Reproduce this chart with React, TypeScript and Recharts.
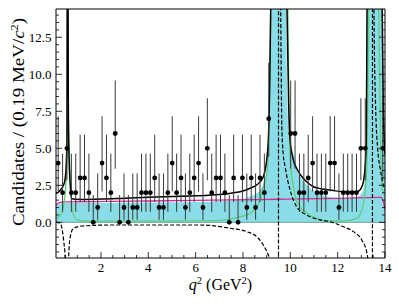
import {
  ComposedChart,
  Area,
  Line,
  Scatter,
  ErrorBar,
  XAxis,
  YAxis,
  ReferenceLine,
} from "recharts";

const FONT = '"Liberation Serif", "Times New Roman", serif';

// 75 bins between 0.1 and 14.0 GeV^2; null = bins hidden inside the charmonium peaks
const Q_LO = 0.1;
const Q_HI = 14.0;
const N_BINS = 75;
const counts: (number | null)[] = [
  4, 2, 5, 2, 2, 3, 3, 2, 0, 1, 4, 3, 2, 6, 0, 1, 0, 1, 1, 2,
  2, 2, 3, 1, 1, 2, 4, 2, 3, 1, 2, 3, 4, 1, 5, 2, 3, 3, 2, 0,
  3, 0, 3, 1, 3, 1, 3, 2, 7, null, null, null, null, 6, 6, 2, 2, 3, 4, 2,
  2, 2, 4, 4, 1, 2, 2, 2, 2, 5, 5, null, null, null, 5,
];

// 68% Poisson interval for n = 0..7
const poissonLow = [0, 0.173, 0.708, 1.367, 2.086, 2.84, 3.62, 4.419];
const poissonHigh = [1.841, 3.3, 4.638, 5.918, 7.163, 8.382, 9.584, 10.77];

// total fit (black)
const totalQ = [0.1, 0.2, 0.3, 0.4, 0.47, 0.52, 0.56, 0.59, 0.62, 0.65, 0.7, 0.77, 0.9, 1.2, 2, 3, 4, 5, 6, 7, 7.5, 8, 8.3, 8.6, 8.86, 9.0, 9.07, 9.12, 9.17, 9.3, 9.5, 9.75, 9.86, 9.93, 9.99, 10.13, 10.3, 10.49, 10.7, 10.98, 11.3, 11.68, 12.25, 12.81, 12.95, 13.02, 13.1, 13.16, 13.21, 13.24, 13.32, 13.5, 13.82, 13.88, 13.93, 13.97, 14.0];
const totalV = [1.96, 2.05, 2.2, 2.45, 2.8, 3.5, 5.5, 30, 8, 4.5, 2.6, 1.6, 1.56, 1.55, 1.57, 1.63, 1.69, 1.74, 1.79, 1.88, 1.97, 2.12, 2.3, 2.55, 3.08, 4.2, 5.56, 8.5, 14.3, 30, 45, 30, 14.3, 8, 5.56, 4.2, 3.55, 3.08, 2.72, 2.4, 2.27, 2.18, 2.07, 2.07, 2.2, 2.4, 2.85, 3.75, 5.56, 14.3, 30, 45, 30, 14.3, 7.5, 5.3, 4.6];

// resonant component (cyan fill)
const cyanQ = [0.1, 0.2, 0.35, 0.6, 1, 3, 5, 6, 7, 7.5, 8, 8.3, 8.6, 8.8, 9.0, 9.06, 9.11, 9.15, 9.3, 9.5, 9.7, 9.82, 9.87, 9.92, 10.0, 10.13, 10.34, 10.5, 10.7, 11.0, 11.5, 12.0, 12.5, 12.8, 13.0, 13.1, 13.18, 13.22, 13.25, 13.35, 13.5, 13.8, 13.92, 13.96, 14.0];
const cyanV = [1.08, 1.2, 1.28, 1.3, 1.3, 1.33, 1.36, 1.38, 1.42, 1.48, 1.6, 1.75, 1.98, 2.4, 3.5, 4.5, 5.56, 14.3, 35, 45, 35, 14.3, 8.5, 6.0, 5.2, 4.66, 3.3, 2.9, 2.5, 2.1, 1.78, 1.65, 1.62, 1.72, 1.95, 2.3, 3.6, 7, 14.3, 35, 45, 35, 14.3, 8, 6];

// non-resonant (magenta)
const pinkQ = [0.1, 0.18, 0.28, 0.45, 1, 2.5, 4, 6, 7.5, 9.5, 12, 13.8, 13.88, 13.94, 14.0];
const pinkV = [1.15, 1.27, 1.34, 1.38, 1.39, 1.41, 1.44, 1.48, 1.51, 1.56, 1.62, 1.68, 1.6, 1.35, 0.85];

// green component
const greenQ = [0.1, 0.2, 0.3, 0.4, 0.49, 0.53, 0.56, 0.6, 0.64, 0.7, 0.77, 0.84, 0.91, 1.05, 1.33, 2, 4, 6, 7, 7.6, 8.0, 8.3, 8.5, 8.72, 8.85, 9.0, 9.08, 9.15, 9.3, 9.5, 9.8, 9.9, 9.95, 10.0, 10.13, 10.34, 10.63, 10.9, 11.12, 11.68, 12.3, 12.81, 13.02, 13.16, 13.24, 13.3, 13.5, 13.75, 13.82, 13.88, 14.0];
const greenV = [0.24, 0.35, 0.5, 0.95, 1.96, 3.0, 4.5, 8, 5.5, 3.3, 1.05, 0.5, 0.27, 0.15, 0.09, 0.08, 0.08, 0.1, 0.13, 0.27, 0.42, 0.6, 0.9, 1.5, 2.3, 3.2, 5, 11, 35, 45, 35, 14, 7, 4.2, 2.4, 1.17, 0.72, 0.4, 0.27, 0.09, 0.1, 0.27, 0.83, 2.18, 4.2, 12, 45, 12, 5, 2.3, 1.8];

// interference (dashed)
const dashQ = [0.1, 0.27, 0.35, 0.42, 0.49, 0.53, 0.56, 0.59, 0.63, 0.7, 0.84, 1.2, 2.5, 6.2, 7.45, 8.16, 8.58, 8.86, 9.07, 9.2, 9.35, 9.49, 9.51, 9.56, 9.6, 9.64, 9.7, 9.78, 9.99, 10.27, 10.7, 11.26, 11.68, 12.25, 12.67, 13.02, 13.24, 13.33, 13.46, 13.48, 13.53, 13.6, 13.7, 13.8, 13.9, 14.0];
const dashV = [0.02, -0.07, -0.4, -1.2, -2.5, -5, -30, -5, -2.5, -1.0, -0.4, -0.25, -0.18, -0.18, -0.4, -0.63, -0.97, -1.53, -2.2, -2.7, -5, -100, 100, 20, 13, 6.5, 4.6, 3.75, 2.18, 1.05, 0.49, 0.16, 0.04, -0.3, -0.63, -1.2, -2.1, -4, -100, 100, 15, 8, 4.8, 3.6, 2.7, 2.2];

const xMajor = [2, 4, 6, 8, 10, 12, 14];
const yMajor = [0, 2.5, 5, 7.5, 10, 12.5];
const xTicks = Array.from({ length: 28 }, (_, i) => 0.5 * (i + 1));
const yTicks = Array.from({ length: 33 }, (_, i) => -2 + 0.5 * i);

const Y_DOMAIN: [number, number] = [-2.41, 14.41];
const X_DOMAIN: [number, number] = [Q_LO, Q_HI];

const zip = (qs: number[], vs: number[]) => qs.map((q, i) => ({ q, v: vs[i] }));
const totalData = zip(totalQ, totalV);
const cyanData = zip(cyanQ, cyanV);
const pinkData = zip(pinkQ, pinkV);
const greenData = zip(greenQ, greenV);
const dashData = zip(dashQ, dashV);

const binW = (Q_HI - Q_LO) / N_BINS;
const pointData = counts
  .map((n, i) =>
    n === null
      ? null
      : {
          q: Q_LO + binW * (i + 0.5),
          v: n,
          err: [n - poissonLow[n], poissonHigh[n] - n],
        }
  )
  .filter(Boolean) as { q: number; v: number; err: number[] }[];

const TM = 4;
const MAJ = 6;
const MIN = 3;

function BottomTick({ x, y, payload }: any) {
  const major = xMajor.includes(payload.value);
  const y0 = y - TM;
  return (
    <g>
      <line x1={x} x2={x} y1={y0} y2={y0 - (major ? MAJ : MIN)} stroke="#000" strokeWidth={0.8} />
      {major && (
        <text x={x} y={y0 + 13.5} textAnchor="middle" fontSize={13} fontFamily={FONT} fill="#000">
          {payload.value}
        </text>
      )}
    </g>
  );
}

function TopTick({ x, y, payload }: any) {
  const major = xMajor.includes(payload.value);
  const y0 = y + TM;
  return <line x1={x} x2={x} y1={y0} y2={y0 + (major ? MAJ : MIN)} stroke="#000" strokeWidth={0.8} />;
}

function LeftTick({ x, y, payload }: any) {
  const major = yMajor.includes(payload.value);
  const x0 = x + TM;
  return (
    <g>
      <line x1={x0} x2={x0 + (major ? MAJ : MIN)} y1={y} y2={y} stroke="#000" strokeWidth={0.8} />
      {major && (
        <text x={x0 - 4.5} y={y + 4.5} textAnchor="end" fontSize={13} fontFamily={FONT} fill="#000">
          {payload.value.toFixed(1)}
        </text>
      )}
    </g>
  );
}

function RightTick({ x, y, payload }: any) {
  const major = yMajor.includes(payload.value);
  const x0 = x - TM;
  return <line x1={x0} x2={x0 - (major ? MAJ : MIN)} y1={y} y2={y} stroke="#000" strokeWidth={0.8} />;
}

export default function App() {
  return (
    <div style={{ position: "absolute", left: 0, top: 0, width: 399, height: 304, background: "#fff" }}>
      <ComposedChart width={399} height={304} margin={{ top: 8, right: 13, bottom: 45, left: 55 }}>
        <XAxis
          dataKey="q"
          type="number"
          domain={X_DOMAIN}
          allowDataOverflow
          ticks={xTicks}
          interval={0}
          height={1}
          tickSize={0}
          tickMargin={TM}
          tickLine={false}
          axisLine={{ stroke: "#000", strokeWidth: 1 }}
          tick={(p: any) => <BottomTick {...p} />}
        />
        <XAxis
          xAxisId="top"
          orientation="top"
          type="number"
          domain={X_DOMAIN}
          allowDataOverflow
          ticks={xTicks}
          interval={0}
          height={1}
          tickSize={0}
          tickMargin={TM}
          tickLine={false}
          axisLine={{ stroke: "#000", strokeWidth: 1 }}
          tick={(p: any) => <TopTick {...p} />}
        />
        <YAxis
          type="number"
          domain={Y_DOMAIN}
          allowDataOverflow
          ticks={yTicks}
          interval={0}
          width={1}
          tickSize={0}
          tickMargin={TM}
          tickLine={false}
          axisLine={{ stroke: "#000", strokeWidth: 1 }}
          tick={(p: any) => <LeftTick {...p} />}
        />
        <YAxis
          yAxisId="right"
          orientation="right"
          type="number"
          domain={Y_DOMAIN}
          allowDataOverflow
          ticks={yTicks}
          interval={0}
          width={1}
          tickSize={0}
          tickMargin={TM}
          tickLine={false}
          axisLine={{ stroke: "#000", strokeWidth: 1 }}
          tick={(p: any) => <RightTick {...p} />}
        />

        <Area
          data={cyanData}
          dataKey="v"
          type="monotone"
          baseValue={0}
          fill="#8adce7"
          fillOpacity={1}
          stroke="none"
          isAnimationActive={false}
          dot={false}
          activeDot={false}
        />
        <ReferenceLine y={0} stroke="#6b9ea6" strokeWidth={1} />
        <Line data={pinkData} dataKey="v" type="monotone" stroke="#dd2a9b" strokeWidth={1.3} dot={false} activeDot={false} isAnimationActive={false} />
        <Line data={greenData} dataKey="v" type="monotone" stroke="#5fcf7c" strokeWidth={1.3} dot={false} activeDot={false} isAnimationActive={false} />
        <Line data={dashData} dataKey="v" type="monotone" stroke="#000" strokeWidth={1.2} strokeDasharray="4 2" dot={false} activeDot={false} isAnimationActive={false} />
        <Line data={totalData} dataKey="v" type="monotone" stroke="#000" strokeWidth={1.5} dot={false} activeDot={false} isAnimationActive={false} />
        <Scatter
          data={pointData}
          dataKey="v"
          isAnimationActive={false}
          shape={(p: any) => <circle cx={p.cx} cy={p.cy} r={2.4} fill="#000" />}
        >
          <ErrorBar dataKey="err" direction="y" width={0} stroke="#3a3a3a" strokeWidth={1} />
        </Scatter>
      </ComposedChart>
      <svg width={399} height={304} style={{ position: "absolute", left: 0, top: 0, pointerEvents: "none" }}>
        <text
          transform="translate(23.5,122) rotate(-90)"
          textAnchor="middle"
          fontSize={17}
          fontFamily={FONT}
          fill="#000"
          textLength={208}
          lengthAdjust="spacingAndGlyphs"
        >
          Candidates / (0.19 MeV/<tspan fontStyle="italic">c</tspan>
          <tspan dy={-6} fontSize={11}>2</tspan>
          <tspan dy={6}>)</tspan>
        </text>
        <text x={220.5} y={290} textAnchor="middle" fontSize={16} fontFamily={FONT} fill="#000">
          <tspan fontStyle="italic">q</tspan>
          <tspan dy={-6} fontSize={10.5}>2</tspan>
          <tspan dy={6}> (GeV</tspan>
          <tspan dy={-6} fontSize={10.5}>2</tspan>
          <tspan dy={6}>)</tspan>
        </text>
      </svg>
    </div>
  );
}
